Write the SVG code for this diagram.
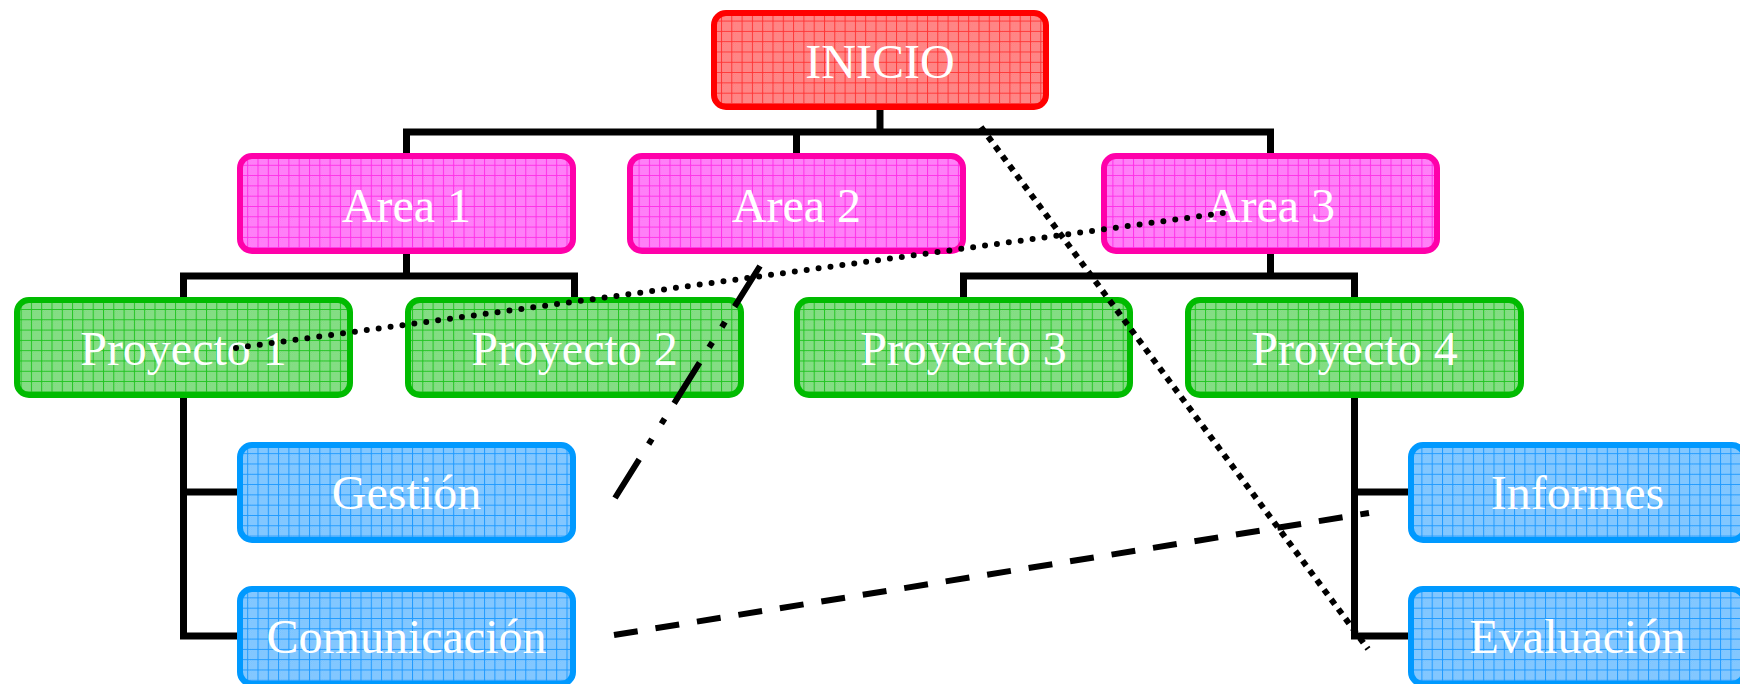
<svg xmlns="http://www.w3.org/2000/svg" width="1740" height="684" viewBox="0 0 1740 684">
<style>
.box{stroke-width:6}
.lbl{font-family:"Liberation Serif","Times New Roman",serif;font-size:48px;fill:#ffffff;text-anchor:middle}
.tree{fill:none;stroke:#000;stroke-width:7;stroke-linejoin:miter;stroke-linecap:butt}
.x{fill:none;stroke:#000;stroke-width:6}
</style>
<defs>
<pattern id="chkR" width="2" height="2" patternUnits="userSpaceOnUse"><rect width="2" height="2" fill="#ff9292"/><rect width="1" height="1" fill="#ff7878"/><rect x="1" y="1" width="1" height="1" fill="#ff7878"/></pattern>
<pattern id="chkP" width="2" height="2" patternUnits="userSpaceOnUse"><rect width="2" height="2" fill="#ff8fff"/><rect width="1" height="1" fill="#ff70f0"/><rect x="1" y="1" width="1" height="1" fill="#ff70f0"/></pattern>
<pattern id="chkG" width="2" height="2" patternUnits="userSpaceOnUse"><rect width="2" height="2" fill="#90e290"/><rect width="1" height="1" fill="#77d877"/><rect x="1" y="1" width="1" height="1" fill="#77d877"/></pattern>
<pattern id="chkB" width="2" height="2" patternUnits="userSpaceOnUse"><rect width="2" height="2" fill="#90ceff"/><rect width="1" height="1" fill="#74c0ff"/><rect x="1" y="1" width="1" height="1" fill="#74c0ff"/></pattern>
<pattern id="gR" width="10.3" height="10.3" patternUnits="userSpaceOnUse"><rect width="10.3" height="10.3" fill="url(#chkR)"/><path d="M0.5 0V10.3M0 0.5H10.3" stroke="#ff3636" stroke-width="1"/></pattern>
<pattern id="gP" width="10.3" height="10.3" patternUnits="userSpaceOnUse"><rect width="10.3" height="10.3" fill="url(#chkP)"/><path d="M0.5 0V10.3M0 0.5H10.3" stroke="#ff30e8" stroke-width="1"/></pattern>
<pattern id="gG" width="10.3" height="10.3" patternUnits="userSpaceOnUse"><rect width="10.3" height="10.3" fill="url(#chkG)"/><path d="M0.5 0V10.3M0 0.5H10.3" stroke="#22c422" stroke-width="1"/></pattern>
<pattern id="gB" width="10.3" height="10.3" patternUnits="userSpaceOnUse"><rect width="10.3" height="10.3" fill="url(#chkB)"/><path d="M0.5 0V10.3M0 0.5H10.3" stroke="#1f9aff" stroke-width="1"/></pattern>
</defs>
<rect width="1740" height="684" fill="#ffffff"/>

<g id="n-inicio"><rect class="box" x="714" y="13" width="332" height="94" rx="12" fill="url(#gR)" stroke="#ff0000"/><text class="lbl" x="880" y="78">INICIO</text></g>

<g id="n-area1"><rect class="box" x="240" y="156" width="333" height="95" rx="12" fill="url(#gP)" stroke="#ff00aa"/><text class="lbl" x="406.5" y="222">Area 1</text></g>
<g id="n-area2"><rect class="box" x="630" y="156" width="333" height="95" rx="12" fill="url(#gP)" stroke="#ff00aa"/><text class="lbl" x="796.5" y="222">Area 2</text></g>
<g id="n-area3"><rect class="box" x="1104" y="156" width="333" height="95" rx="12" fill="url(#gP)" stroke="#ff00aa"/><text class="lbl" x="1270.5" y="222">Area 3</text></g>

<g id="n-p1"><rect class="box" x="17" y="300" width="333" height="95" rx="12" fill="url(#gG)" stroke="#00bb00"/><text class="lbl" x="183.5" y="365">Proyecto 1</text></g>
<g id="n-p2"><rect class="box" x="408" y="300" width="333" height="95" rx="12" fill="url(#gG)" stroke="#00bb00"/><text class="lbl" x="574.5" y="365">Proyecto 2</text></g>
<g id="n-p3"><rect class="box" x="797" y="300" width="333" height="95" rx="12" fill="url(#gG)" stroke="#00bb00"/><text class="lbl" x="963.5" y="365">Proyecto 3</text></g>
<g id="n-p4"><rect class="box" x="1188" y="300" width="333" height="95" rx="12" fill="url(#gG)" stroke="#00bb00"/><text class="lbl" x="1354.5" y="365">Proyecto 4</text></g>

<g id="n-gestion"><rect class="box" x="240" y="445" width="333" height="95" rx="12" fill="url(#gB)" stroke="#0099ff"/><text class="lbl" x="406.5" y="509">Gestión</text></g>
<g id="n-comunicacion"><rect class="box" x="240" y="589" width="333" height="95" rx="12" fill="url(#gB)" stroke="#0099ff"/><text class="lbl" x="406.5" y="653">Comunicación</text></g>
<g id="n-informes"><rect class="box" x="1411" y="445" width="333" height="95" rx="12" fill="url(#gB)" stroke="#0099ff"/><text class="lbl" x="1577.5" y="509">Informes</text></g>
<g id="n-evaluacion"><rect class="box" x="1411" y="589" width="333" height="95" rx="12" fill="url(#gB)" stroke="#0099ff"/><text class="lbl" x="1577.5" y="653">Evaluación</text></g>

<g id="connectors">
<path class="tree" d="M880 110V132"/>
<path class="tree" d="M406.5 153V132H1270.5V153"/>
<path class="tree" d="M796.5 132V153"/>
<path class="tree" d="M406.5 254V276"/>
<path class="tree" d="M183.5 297V276H574.5V297"/>
<path class="tree" d="M1270.5 254V276"/>
<path class="tree" d="M963.5 297V276H1354.5V297"/>
<path class="tree" d="M183.5 398V636H237"/>
<path class="tree" d="M183.5 492H237"/>
<path class="tree" d="M1354.5 398V636H1408"/>
<path class="tree" d="M1354.5 492H1408"/>
<path class="x" d="M236 348L1223 213" stroke-dasharray="0 12" stroke-linecap="round"/>
<path class="x" d="M760 266L615 498" stroke-dasharray="48 18 6 18 6 18"/>
<path class="x" d="M981 127L1368 649" stroke-dasharray="6 6"/>
<path class="x" d="M614 635L1369 513" stroke-dasharray="24 18"/>
</g>
</svg>
